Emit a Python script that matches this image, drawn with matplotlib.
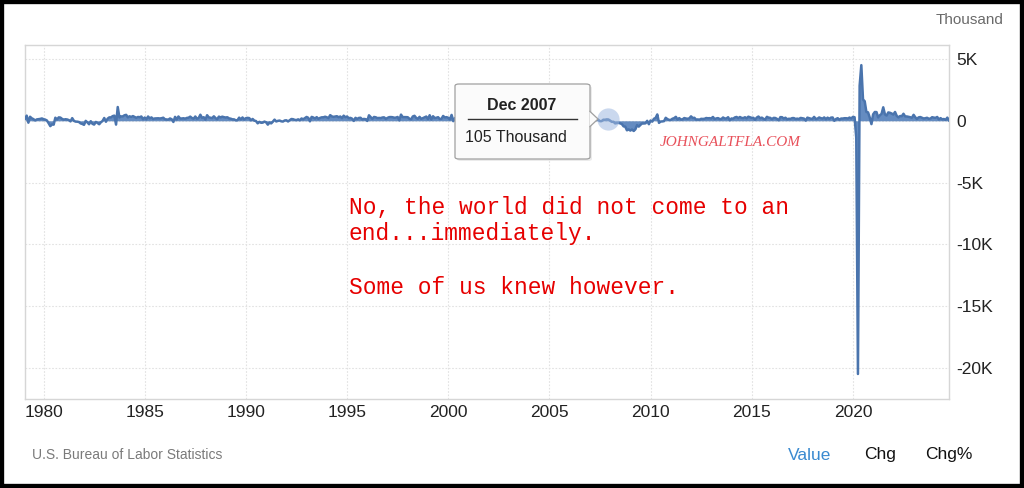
import numpy as np
import matplotlib
matplotlib.use("Agg")
import matplotlib.pyplot as plt
from matplotlib.patches import Rectangle, FancyBboxPatch, Polygon
from matplotlib.lines import Line2D

# ---------------- data (monthly change in nonfarm payrolls, thousands) ----------------
start_year, start_month = 1979, 2
changes_1979 = [161, 419, -152, 327, 201, 134, 28, 111, 131, 151, 190]
changes_1980s = [
    131, 96, 24, -191, -431, -293, -312, 249, 105, 276, 259, 152,
    96, 126, 107, 56, -46, 215, -4, -65, -70, -98, -212, -255,
    -327, -7, -129, -278, -34, -244, -306, -92, -175, -279, -117, -14,
    226, -78, 172, 276, 276, 378, 418, -308, 1114, 273, 353, 355,
    446, 481, 274, 364, 311, 381, 312, 241, 311, 286, 349, 128,
    266, 124, 347, 196, 274, 146, 189, 193, 203, 187, 209, 249,
    123, 105, 94, 188, 125, -94, 318, 114, 347, 186, 186, 205,
    172, 232, 249, 338, 226, 172, 346, 169, 227, 491, 234, 290,
    94, 450, 276, 245, 218, 363, 222, 126, 339, 270, 335, 292,
    263, 288, 194, 170, 118, 115, 40, 44, 254, 111, 268, 107,
]
changes_1990s = [
    211, 236, 219, 32, 149, 14, -21, -206, -86, -160, -148, -64,
    -124, -310, -149, -209, -70, 95, -53, -6, 19, -43, -60, 25,
    43, -55, 49, 145, 127, 74, 59, 117, 43, 187, 122, 213,
    310, 241, -45, 316, 265, 180, 296, 155, 235, 280, 283, 330,
    284, 212, 458, 355, 319, 346, 371, 287, 347, 214, 413, 286,
    348, 213, 236, 171, -9, 242, 150, 231, 245, 113, 152, 130,
    -12, 445, 295, 158, 309, 284, 217, 231, 220, 266, 280, 153,
    236, 295, 303, 289, 247, 256, 310, 32, 500, 299, 300, 296,
    289, 165, 118, 351, 404, 236, 161, 317, 155, 216, 286, 344,
    134, 452, 105, 367, 221, 247, 291, 143, 162, 390, 268, 296,
]
changes_2000s = [
    243, 113, 476, -29, 218, -48, 175, -2, 140, 3, 229, 130,
    35, 66, -30, -275, -43, -128, -124, -161, -246, -331, -293, -177,
    -130, -149, -29, -84, -11, 41, -94, -11, -56, 120, 5, -165,
    82, -154, -212, -49, -9, -1, 24, -41, 103, 209, 13, 115,
    154, 38, 336, 249, 310, 79, 42, 123, 159, 351, 64, 132,
    136, 240, 142, 360, 169, 246, 373, 195, 67, 84, 334, 160,
    277, 315, 280, 182, 23, 83, 207, 184, 157, 2, 210, 171,
    238, 88, 188, 79, 143, 78, -33, -24, 88, 84, 114, 105,
    17, -84, -78, -210, -185, -165, -209, -266, -452, -473, -770, -695,
    -791, -703, -823, -687, -349, -471, -329, -213, -220, -204, -2, -275,
]
changes_2010s = [
    23, -69, 163, 232, 515, -167, -58, -51, -27, 241, 137, 71,
    70, 168, 212, 322, 102, 217, 106, 122, 221, 183, 164, 196,
    360, 226, 243, 96, 110, 88, 160, 150, 161, 225, 203, 214,
    190, 311, 135, 192, 218, 146, 140, 269, 185, 189, 291, 45,
    187, 168, 272, 310, 213, 306, 232, 218, 286, 200, 331, 286,
    234, 238, 86, 262, 344, 206, 254, 157, 100, 321, 252, 239,
    126, 237, 225, 153, 43, 297, 291, 176, 249, 124, 164, 155,
    216, 219, 149, 174, 145, 232, 207, 179, 14, 256, 210, 171,
    155, 313, 152, 174, 270, 213, 176, 272, 129, 255, 160, 256,
    269, 1, 147, 210, 85, 182, 181, 207, 208, 185, 261, 184,
]
changes_2020s = [
    315, 289, -1373, -20477, 2833, 4500, 1726, 1583, 716, 680, 264, -268,
    520, 710, 704, 269, 447, 557, 1091, 517, 424, 677, 647, 588,
    504, 714, 398, 273, 386, 370, 568, 352, 350, 324, 290, 239,
    482, 287, 146, 278, 303, 240, 184, 210, 246, 165, 182, 290,
    256, 236, 310, 108, 216, 118, 144, 78, 255, 36,
]
x_tick_years = [1980, 1985, 1990, 1995, 2000, 2005, 2010, 2015, 2020]
y_ticks = [5000, 0, -5000, -10000, -15000, -20000]
y_tick_labels = ["5K", "0", "-5K", "-10K", "-15K", "-20K"]
highlight_label = "Dec 2007"
highlight_value = 105

values = np.array(changes_1979 + changes_1980s + changes_1990s + changes_2000s
                  + changes_2010s + changes_2020s, dtype=float)
months = np.arange(len(values)) + (start_month - 1)
xdates = start_year + months / 12.0
hi_idx = (2007 - start_year) * 12 + (12 - start_month)

# ---------------- figure ----------------
W, H = 1024, 488
fig = plt.figure(figsize=(W / 100, H / 100), dpi=100)
fig.patch.set_facecolor("white")

def fx(px):
    return px / W

def fy(py):
    return 1 - py / H

L, R, T, B = 25, 949, 45, 399
ax = fig.add_axes([fx(L), fy(B), fx(R - L), (B - T) / H])
ax.set_facecolor("white")

line_color = "#4a74ad"
ax.fill_between(xdates, values, 0, color="#4a78b6", alpha=0.85, linewidth=0, zorder=2)
ax.plot(xdates, values, color=line_color, lw=1.8, zorder=3, solid_joinstyle="round")

# highlight marker
ax.plot([xdates[hi_idx]], [values[hi_idx]], marker="o", ms=16, color="#9fb9e0",
        alpha=0.55, mec="none", zorder=4)

ax.set_xlim(xdates[0], xdates[-1])
ax.set_ylim(-22500, 6130)

ax.set_xticks(x_tick_years)
ax.set_xticklabels([str(y) for y in x_tick_years], fontsize=12.5, color="#222222",
                   family="Liberation Sans")
ax.set_yticks(y_ticks)
ax.set_yticklabels(y_tick_labels, fontsize=12.5, color="#222222", family="Liberation Sans")
ax.yaxis.tick_right()
ax.tick_params(axis="both", length=0)
ax.tick_params(axis="x", pad=4)
ax.tick_params(axis="y", pad=5)
ax.grid(True, color="#e2e2e2", lw=0.8, ls=(0, (1.5, 1.5)), zorder=0)
for s in ax.spines.values():
    s.set_color("#d6d6d6")
    s.set_linewidth(1.0)

# ---------------- overlay texts ----------------
fig.text(fx(1003), fy(20), "Thousand", ha="right", va="center", fontsize=11,
         color="#6a6a6a", family="Liberation Sans")
fig.text(fx(32), fy(455), "U.S. Bureau of Labor Statistics", ha="left", va="center",
         fontsize=10, color="#7a7a7a", family="Liberation Sans")
fig.text(fx(810), fy(455), "Value", ha="center", va="center", fontsize=12.5,
         color="#3a8ad0", family="Liberation Sans")
fig.text(fx(880), fy(455), "Chg", ha="center", va="center", fontsize=12.5,
         color="#111111", family="Liberation Sans")
fig.text(fx(949), fy(455), "Chg%", ha="center", va="center", fontsize=12.5,
         color="#111111", family="Liberation Sans")

red_kw = dict(ha="left", va="center", fontsize=16.5, color="#e60000",
              family="Liberation Mono")
fig.text(fx(349), fy(207), "No, the world did not come to an", **red_kw)
fig.text(fx(349), fy(233), "end...immediately.", **red_kw)
fig.text(fx(349), fy(287), "Some of us knew however.", **red_kw)

fig.text(fx(730), fy(143), "JOHNGALTFLA.COM", ha="center", va="center",
         fontsize=11, color="#e8505a", family="Liberation Serif", style="italic")

# ---------------- tooltip ----------------
bx0, by0, bx1, by1 = 455, 84, 590, 159
shadow = FancyBboxPatch((fx(bx0 + 2), fy(by1 + 2)), fx(bx1 - bx0), (by1 - by0) / H,
                        boxstyle="round,pad=0,rounding_size=0.004",
                        transform=fig.transFigure, facecolor="#000000", alpha=0.08,
                        edgecolor="none", zorder=9)
fig.add_artist(shadow)
box = FancyBboxPatch((fx(bx0), fy(by1)), fx(bx1 - bx0), (by1 - by0) / H,
                     boxstyle="round,pad=0,rounding_size=0.004",
                     transform=fig.transFigure, facecolor="#fbfbfb",
                     edgecolor="#a0a0a0", lw=0.9, zorder=10)
fig.add_artist(box)
ptr = Polygon([(fx(bx1 - 0.5), fy(111)), (fx(bx1 + 8), fy(119)), (fx(bx1 - 0.5), fy(127))],
              closed=False, transform=fig.transFigure, facecolor="#fbfbfb",
              edgecolor="#a0a0a0", lw=0.9, zorder=11)
fig.add_artist(ptr)
fig.text(fx(522), fy(105), highlight_label, ha="center", va="center", fontsize=11.5,
         weight="bold", color="#222222", family="Liberation Sans", zorder=12)
fig.add_artist(Line2D([fx(468), fx(577)], [fy(119), fy(119)], transform=fig.transFigure,
                      color="#333333", lw=1.0, zorder=12))
fig.text(fx(516), fy(137), f"{highlight_value} Thousand", ha="center", va="center",
         fontsize=11.5, color="#222222", family="Liberation Sans", zorder=12)

# ---------------- outer black frame ----------------
fig.add_artist(Rectangle((0, 0), 1, 1, transform=fig.transFigure, fill=False,
                         edgecolor="black", lw=6, zorder=20))

fig.savefig("out.png", dpi=100, facecolor="white")
